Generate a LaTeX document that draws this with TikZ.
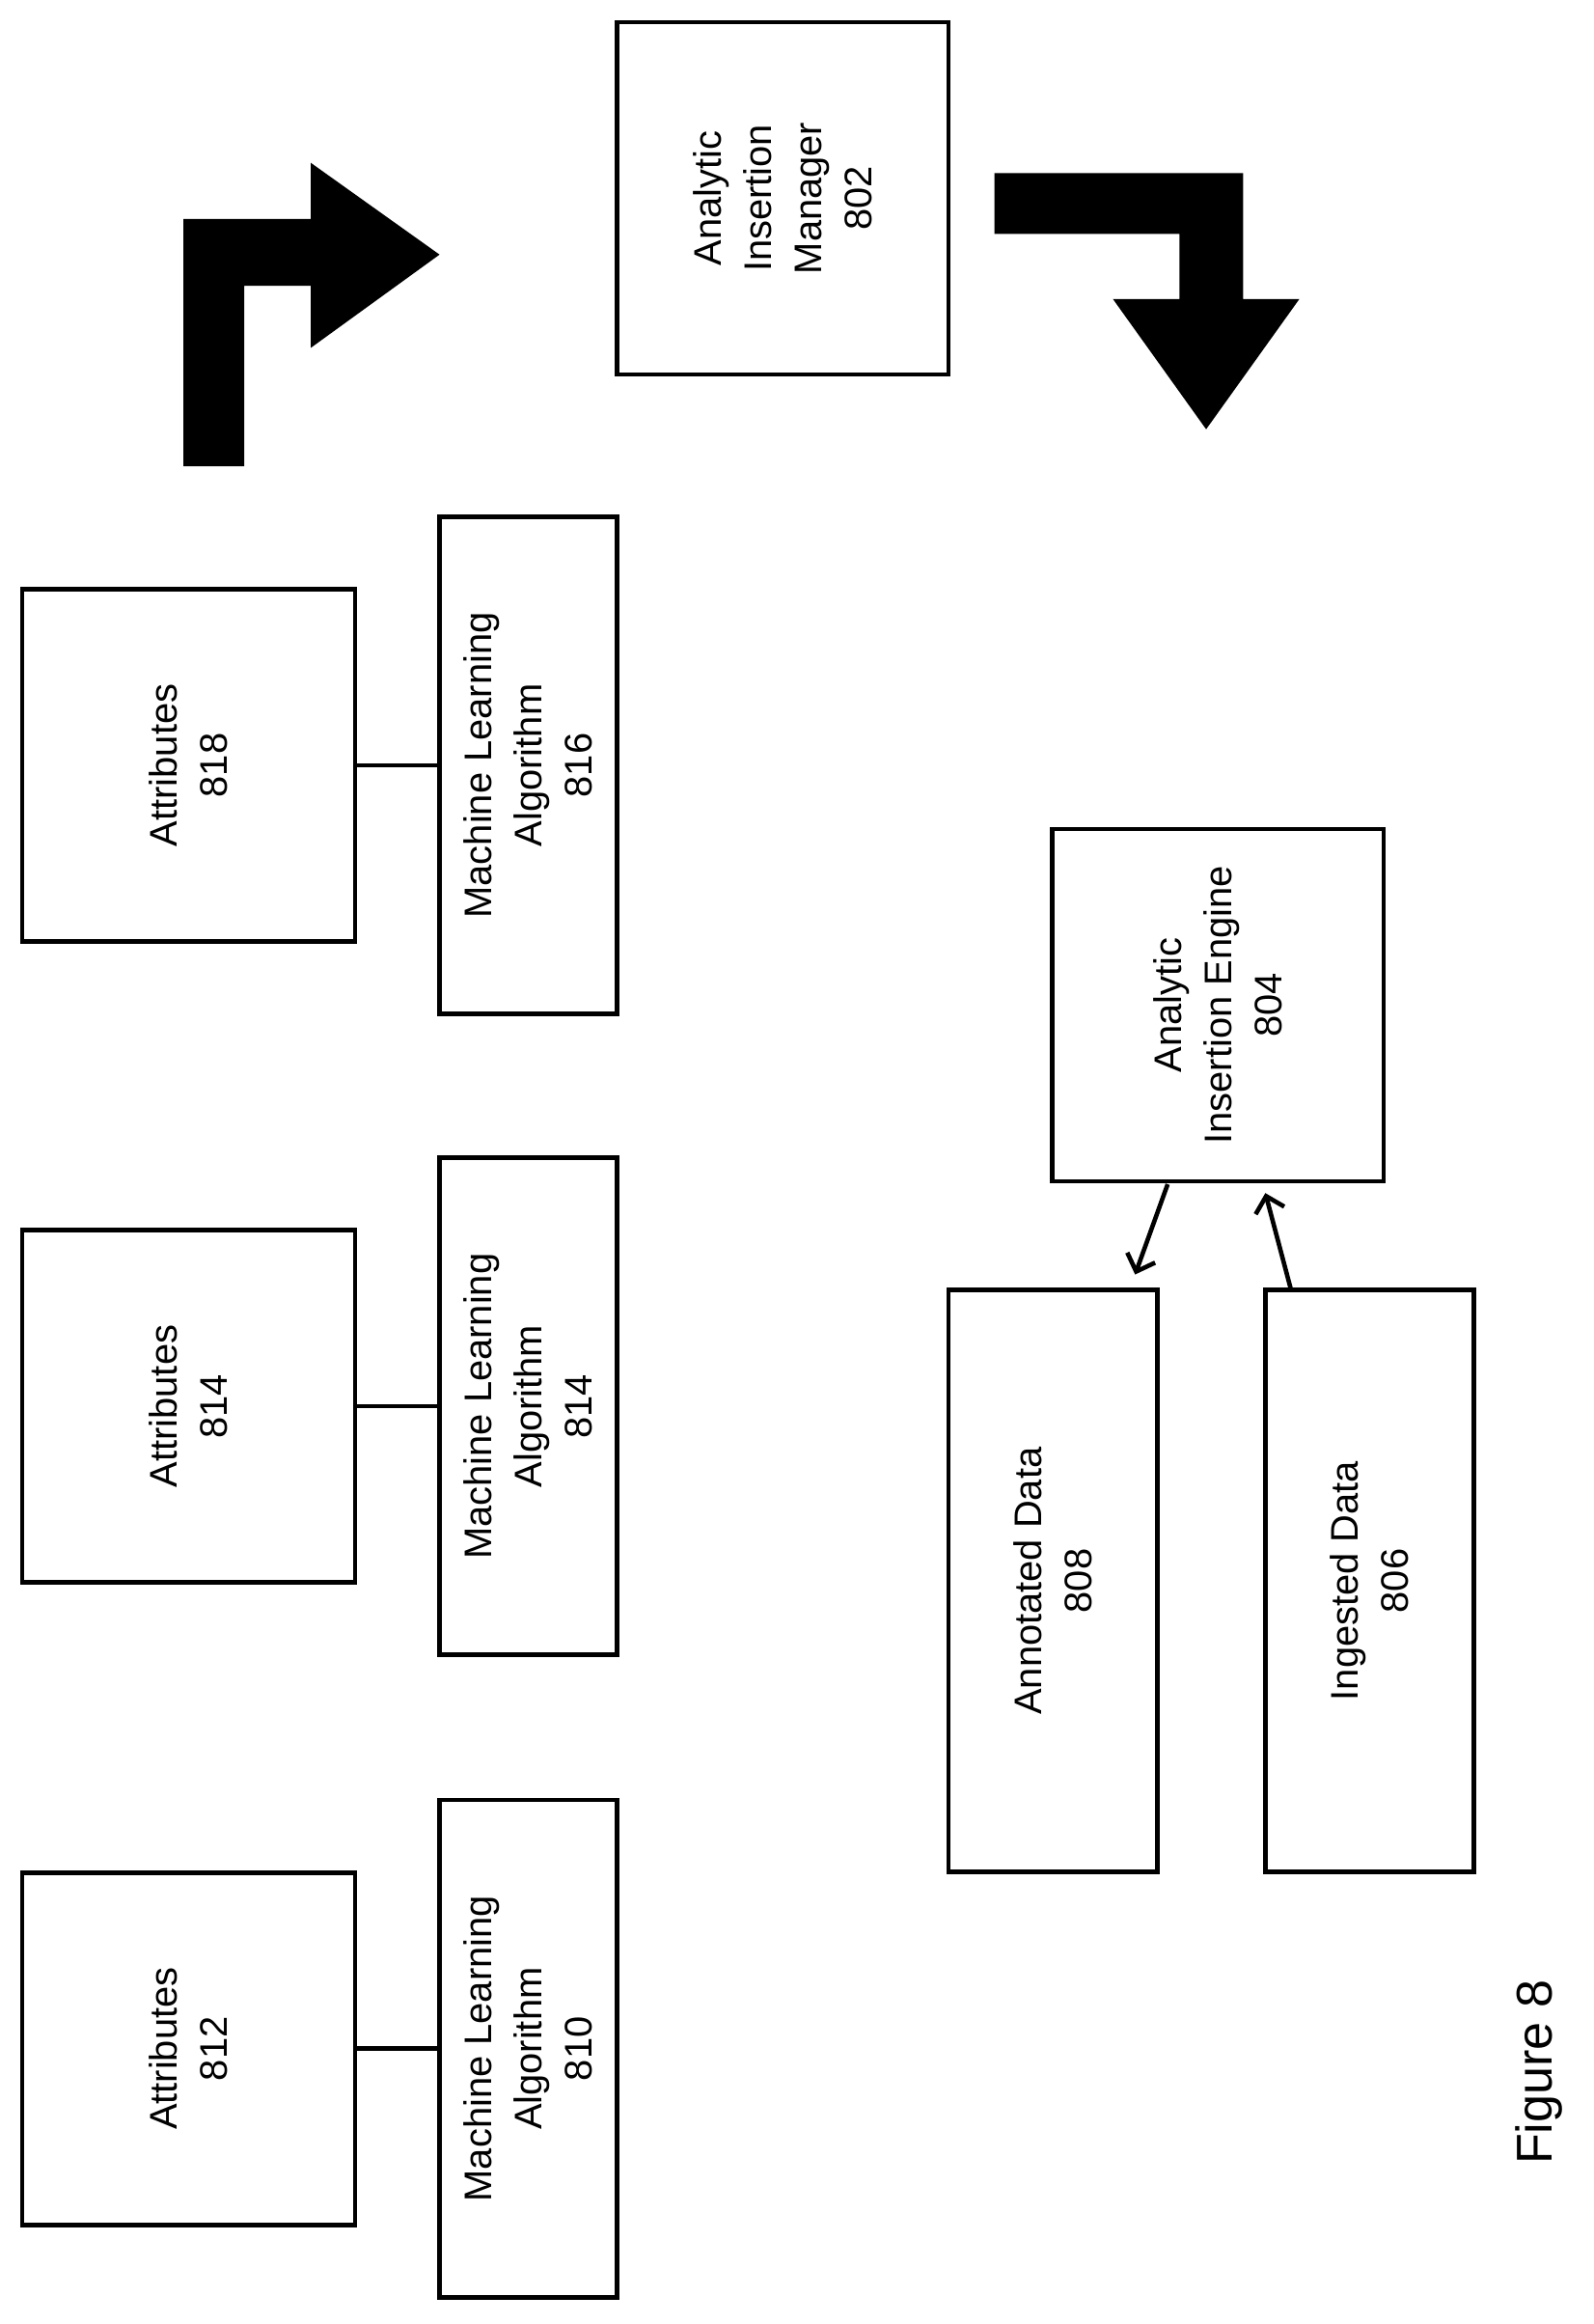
\documentclass[tikz,border=0pt]{standalone}
\usepackage{fontspec}
\setmainfont{Liberation Sans}
\usetikzlibrary{arrows.meta}
\begin{document}
\begin{tikzpicture}[x=1pt,y=-1pt,
 box/.style={draw,line width=3pt,rotate=90,align=center,inner sep=0pt,font=\fontsize{26}{34}\selectfont},
 conn/.style={line width=3pt},
 arr/.style={line width=3pt,-{Straight Barb[length=10pt,width=20pt,line width=3pt]}}]
\useasboundingbox (0,0) rectangle (1077,1570);
% boxes: center (x,y), minimum width = vertical extent, minimum height = horizontal extent
\node[box,minimum width=238pt,minimum height=224pt] (m802) at (529,134) {Analytic\\Insertion\\Manager\\802};
\node[box,minimum width=238pt,minimum height=225pt] (a818) at (127.5,517) {Attributes\\818};
\node[box,minimum width=336pt,minimum height=120pt] (l816) at (357,517) {Machine Learning\\Algorithm\\816};
\node[box,minimum width=238pt,minimum height=225pt] (a814) at (127.5,950) {Attributes\\814};
\node[box,minimum width=336pt,minimum height=120pt] (l814) at (357,950) {Machine Learning\\Algorithm\\814};
\node[box,minimum width=238pt,minimum height=225pt] (a812) at (127.5,1384) {Attributes\\812};
\node[box,minimum width=336pt,minimum height=120pt] (l810) at (357,1384) {Machine Learning\\Algorithm\\810};
\node[box,minimum width=238pt,minimum height=224pt] (e804) at (823,679) {Analytic\\Insertion Engine\\804};
\node[box,minimum width=393pt,minimum height=141pt] (d808) at (711.5,1068) {Annotated Data\\808};
\node[box,minimum width=393pt,minimum height=141pt] (d806) at (925.5,1068) {Ingested Data\\806};
\draw[conn] (a818) -- (l816);
\draw[conn] (a814) -- (l814);
\draw[conn] (a812) -- (l810);
\coordinate (p1) at (789,800);
\coordinate (p2) at (767,861);
\coordinate (q1) at (872,870);
\coordinate (q2) at (855,806);
\draw[arr] (p1) -- (p2);
\draw[arr] (q1) -- (q2);
\fill (124,315)--(124,148)--(210,148)--(210,110)--(297,172)--(210,235)--(210,193)--(165,193)--(165,315)--cycle;
\fill (672,117)--(840,117)--(840,202)--(878,202)--(815,290)--(752,202)--(797,202)--(797,158)--(672,158)--cycle;
\node[rotate=90,font=\fontsize{34}{40}\selectfont] (fig) at (1040,1400) {Figure 8};
\end{tikzpicture}
\end{document}
